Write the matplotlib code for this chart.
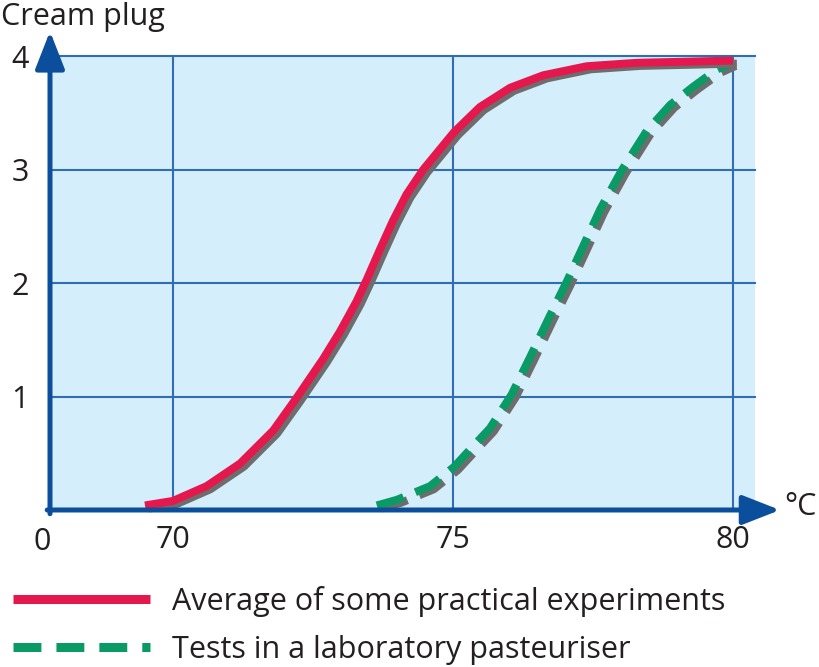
import matplotlib
matplotlib.use("Agg")
import matplotlib.pyplot as plt
import matplotlib.patheffects as pe
from matplotlib.lines import Line2D

# ---- data ----
red_x = [69.5, 70.0, 70.6, 71.2, 71.79, 72.21, 72.68, 72.98, 73.28, 73.46, 73.70, 73.93,
         74.17, 74.47, 74.77, 75.02, 75.48, 76.02, 76.61, 77.39, 78.28, 79.17, 80.0]
red_y = [0.04, 0.08, 0.21, 0.41, 0.70, 0.99, 1.33, 1.57, 1.84, 2.03, 2.30, 2.55,
         2.78, 3.0, 3.18, 3.33, 3.55, 3.72, 3.83, 3.91, 3.94, 3.95, 3.96]

green_x = [73.64, 74.0, 74.59, 75.02, 75.30, 75.66, 76.05, 76.38, 76.73, 77.03, 77.33,
           77.63, 78.01, 78.46, 78.88, 79.29, 79.71, 79.98]
green_y = [0.04, 0.09, 0.21, 0.38, 0.53, 0.72, 1.02, 1.35, 1.71, 2.01, 2.33,
           2.65, 2.99, 3.34, 3.57, 3.73, 3.88, 3.94]

x_ticks = [70, 75, 80]
x_ticklabels = ["70", "75", "80"]
y_ticks = [1, 2, 3, 4]
y_ticklabels = ["1", "2", "3", "4"]

label_red = "Average of some practical experiments"
label_green = "Tests in a laboratory pasteuriser"
y_title = "Cream plug"
x_unit = "°C"

# ---- style ----
plt.rcParams['font.family'] = ['Open Sans', 'DejaVu Sans']
TEXT = "#231f20"
RED = "#e5184d"
GREEN = "#0a9a66"
SHADOW = "#6d6d6d"
FILL = "#d5eefb"
GRID = "#2f6db5"
AXIS = "#0b4f9c"
FS = 22

W, H = 820, 667
fig = plt.figure(figsize=(W / 100, H / 100), dpi=100)
fig.patch.set_facecolor("white")

ax = fig.add_axes([50 / W, (H - 511) / H, 705 / W, 456 / H])
ax.set_facecolor(FILL)
ax.set_xlim(67.804, 80.393)
ax.set_ylim(-0.0088, 4.009)
for s in ax.spines.values():
    s.set_visible(False)

for xv in x_ticks:
    ax.axvline(xv, color=GRID, lw=1.5, zorder=1)
for yv in y_ticks:
    ax.axhline(yv, color=GRID, lw=1.5, zorder=1, clip_on=False)

ax.set_xticks(x_ticks)
ax.set_xticklabels(x_ticklabels)
ax.set_yticks(y_ticks)
ax.set_yticklabels(y_ticklabels)
ax.tick_params(axis='both', length=0, labelsize=FS, labelcolor=TEXT)
ax.tick_params(axis='x', pad=10)
ax.tick_params(axis='y', pad=15)

lw_px = 8.0
lw = lw_px * 72 / 100
shadow = [pe.SimpleLineShadow(offset=(2.8, -2.2), shadow_color=SHADOW, alpha=1.0), pe.Normal()]

ax.plot(green_x, green_y, color=GREEN, lw=lw, linestyle=(0, (3.5, 1.6)),
        dash_capstyle='butt', dash_joinstyle='round', path_effects=shadow,
        zorder=3, clip_on=False)
ax.plot(red_x, red_y, color=RED, lw=lw, solid_capstyle='butt', solid_joinstyle='round',
        path_effects=shadow, zorder=4, clip_on=False)

# axis arrows
arrow_kw = dict(arrowstyle='-|>,head_length=2.3,head_width=0.9', lw=3.6,
                color=AXIS, shrinkA=0, shrinkB=0, mutation_scale=10)
ax.annotate("", xy=(0, 1.052), xytext=(0, -0.006), xycoords='axes fraction',
            textcoords='axes fraction', arrowprops=arrow_kw, zorder=6)
ax.annotate("", xy=(1.0355, 0.0022), xytext=(-0.004, 0.0022), xycoords='axes fraction',
            textcoords='axes fraction', arrowprops=arrow_kw, zorder=6)

ax.text(-0.011, -16 / 456, "0", transform=ax.transAxes, ha='center', va='top',
        fontsize=FS, color=TEXT)

fig.text(1 / W, 1 - 25 / H, y_title, ha='left', va='baseline', fontsize=FS, color=TEXT)
fig.text(784 / W, 1 - 507 / H, x_unit, ha='left', va='center', fontsize=FS, color=TEXT)

handles = [
    Line2D([], [], color=RED, lw=9 * 72 / 100, solid_capstyle='butt'),
    Line2D([], [], color=GREEN, lw=9 * 72 / 100, linestyle=(0, (3.1, 1.67)), dash_capstyle='butt'),
]
fig.legend(handles, [label_red, label_green], loc='upper left',
           bbox_to_anchor=(13 / W, 1 - 586 / H), frameon=False, fontsize=FS,
           handlelength=4.48, handletextpad=0.72, labelspacing=0.58,
           borderpad=0, borderaxespad=0, labelcolor=TEXT)

fig.savefig("out.png", dpi=100)
